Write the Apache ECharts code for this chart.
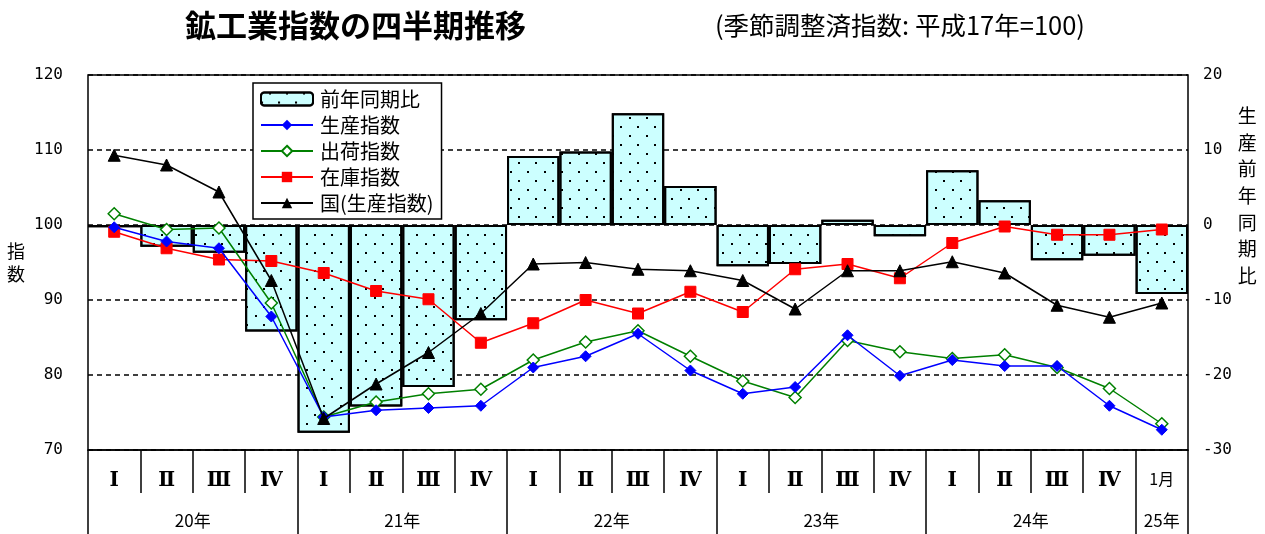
<!DOCTYPE html>
<html>
<head>
<meta charset="utf-8">
<script src="https://cdn.jsdelivr.net/npm/echarts@6/dist/echarts.min.js"></script>
<style>
html,body{margin:0;padding:0;background:#fff;}
#c{width:1265px;height:534px;}
</style>
</head>
<body>
<div id="c"></div>
<script>
// ---- data ----
var quarterLabels = ['Ⅰ','Ⅱ','Ⅲ','Ⅳ','Ⅰ','Ⅱ','Ⅲ','Ⅳ','Ⅰ','Ⅱ','Ⅲ','Ⅳ','Ⅰ','Ⅱ','Ⅲ','Ⅳ','Ⅰ','Ⅱ','Ⅲ','Ⅳ','1月'];
var yearNames = ['20年','21年','22年','23年','24年','25年'];
var yearSpans = [4, 4, 4, 4, 4, 1]; // number of periods per year
var yoyChange  = [-0.3, -2.9, -3.7, -14.2, -27.7, -24.2, -21.6, -12.7, 9.2, 9.8, 14.9, 5.2, -5.5, -5.2, 0.7, -1.5, 7.3, 3.3, -4.7, -4.1, -9.2];
var production = [99.7, 97.8, 96.9, 87.8, 74.4, 75.3, 75.6, 75.9, 81.0, 82.5, 85.5, 80.6, 77.5, 78.4, 85.3, 79.9, 82.0, 81.2, 81.2, 75.9, 72.7];
var shipment   = [101.5, 99.4, 99.6, 89.6, 74.4, 76.4, 77.5, 78.1, 82.0, 84.4, 85.9, 82.5, 79.2, 77.0, 84.6, 83.1, 82.2, 82.7, 81.0, 78.2, 73.5];
var inventory  = [99.1, 96.9, 95.4, 95.2, 93.6, 91.2, 90.1, 84.3, 86.9, 90.0, 88.2, 91.1, 88.4, 94.1, 94.8, 92.9, 97.6, 99.8, 98.7, 98.7, 99.4];
var national   = [109.3, 108.0, 104.4, 92.6, 74.2, 78.8, 83.0, 88.2, 94.8, 95.0, 94.1, 93.9, 92.6, 88.8, 93.9, 93.9, 95.1, 93.6, 89.3, 87.7, 89.6];
var leftTicks = {min: 70, max: 120, interval: 10};
var rightTicks = {min: -30, max: 20, interval: 10};

// ---- year axis built on half-period points ----
var halfCats = [], yearLabelAt = {}, yearTickAt = {0: true};
(function(){
  var pos = 0;
  for (var i = 0; i < yearNames.length; i++) {
    var start = pos * 2, end = (pos + yearSpans[i]) * 2;
    yearLabelAt[(start + end) / 2] = yearNames[i];
    yearTickAt[end] = true;
    pos += yearSpans[i];
  }
  for (var k = 0; k <= pos * 2; k++) halfCats.push(yearLabelAt[k] || '');
})();

var FONT = '"Noto Sans CJK JP", "Noto Sans", sans-serif';
var chart = echarts.init(document.getElementById('c'), null, {renderer: 'canvas'});
var dotDecal = {
  symbol: 'rect', symbolSize: 1, color: '#000', backgroundColor: null,
  dashArrayX: [[1.6, 14.4], [0, 8, 1.6, 6.4]], dashArrayY: [1.6, 6.4], rotation: 0
};
var option = {
  animation: false,
  backgroundColor: '#fff',
  textStyle: {fontFamily: FONT, color: '#000'},
  title: [
    {text: '鉱工業指数の四半期推移', left: 180, top: 5,
     textStyle: {fontFamily: FONT, fontSize: 31, fontWeight: 'bold', color: '#000'}},
    {text: '(季節調整済指数: 平成17年=100)', left: 710, top: 8,
     textStyle: {fontFamily: FONT, fontSize: 25.5, fontWeight: 'normal', color: '#000'}}
  ],
  legend: {
    orient: 'vertical', left: 253, top: 83,
    padding: [6, 8, 6, 7], itemGap: 6, itemWidth: 52, itemHeight: 13,
    backgroundColor: '#fff', borderColor: '#000', borderWidth: 1.5, borderRadius: 0,
    textStyle: {fontFamily: FONT, fontSize: 20, color: '#000', padding: [0, 0, 0, 2]},
    data: ['前年同期比', '生産指数', '出荷指数', '在庫指数', '国(生産指数)']
  },
  grid: {left: 88, right: 77, top: 75, bottom: 84, show: true, borderColor: '#000', borderWidth: 1.5, backgroundColor: 'transparent', z: 10},
  xAxis: [
    {type: 'category', data: quarterLabels, position: 'bottom', boundaryGap: true,
     axisLine: {show: true, onZero: false, lineStyle: {color: '#000', width: 1.5}},
     axisTick: {show: true, interval: 0, length: 43, inside: false, lineStyle: {color: '#000', width: 1.5}},
     axisLabel: {interval: 0, margin: 21, color: '#000',
       formatter: function(v){ return /^[ⅠⅡⅢⅣ]$/.test(v) ? '{r|' + v + '}' : '{n|' + v + '}'; },
       rich: {
         r: {fontSize: 20, fontWeight: 'bold', fontFamily: '"DejaVu Serif", "Noto Sans CJK JP", serif', color: '#000'},
         n: {fontSize: 16, fontFamily: FONT, color: '#000'}
       }},
     splitLine: {show: false}},
    {type: 'category', data: halfCats, position: 'bottom', boundaryGap: false, offset: 0,
     axisLine: {show: false, onZero: false},
     axisTick: {show: true, length: 84, lineStyle: {color: '#000', width: 1.5},
       interval: function(idx){ return !!yearTickAt[idx]; }},
     axisLabel: {margin: 62, fontSize: 17, color: '#000', fontFamily: FONT,
       interval: function(idx, val){ return val !== ''; }},
     splitLine: {show: false}}
  ],
  yAxis: [
    {type: 'value', min: leftTicks.min, max: leftTicks.max, interval: leftTicks.interval, position: 'left',
     name: '指\n数', nameLocation: 'middle', nameRotate: 0, nameGap: 63,
     nameTextStyle: {fontFamily: FONT, fontSize: 18, lineHeight: 23, color: '#000'},
     axisLine: {show: false}, axisTick: {show: false},
     axisLabel: {margin: 25, fontSize: 16, color: '#000', fontFamily: '"DejaVu Sans Mono", monospace'},
     splitLine: {show: true, lineStyle: {color: '#000', type: [5, 4], width: 1.5}}},
    {type: 'value', min: rightTicks.min, max: rightTicks.max, interval: rightTicks.interval, position: 'right',
     name: '生\n産\n前\n年\n同\n期\n比\n\n\n\n\n', nameLocation: 'middle', nameRotate: 0, nameGap: 46,
     nameTextStyle: {fontFamily: FONT, fontSize: 19, lineHeight: 26.7, color: '#000'},
     axisLine: {show: false}, axisTick: {show: false},
     axisLabel: {margin: 15, fontSize: 16, color: '#000', fontFamily: '"DejaVu Sans Mono", monospace'},
     splitLine: {show: false}}
  ],
  series: [
    {name: '前年同期比', type: 'bar', xAxisIndex: 0, yAxisIndex: 1, data: yoyChange,
     barCategoryGap: '0%', barGap: '0%', z: 2,
     itemStyle: {color: '#ccffff', borderColor: '#000', borderWidth: 2, decal: dotDecal}},
    {name: '生産指数', type: 'line', xAxisIndex: 0, yAxisIndex: 0, data: production, z: 6,
     symbol: 'diamond', symbolSize: 11, lineStyle: {color: '#0000ff', width: 1.5},
     itemStyle: {color: '#0000ff', borderColor: '#0000ff'}},
    {name: '出荷指数', type: 'line', xAxisIndex: 0, yAxisIndex: 0, data: shipment, z: 5,
     symbol: 'diamond', symbolSize: 12, lineStyle: {color: '#008000', width: 1.5},
     itemStyle: {color: '#fff', borderColor: '#008000', borderWidth: 1.5}},
    {name: '在庫指数', type: 'line', xAxisIndex: 0, yAxisIndex: 0, data: inventory, z: 4,
     symbol: 'rect', symbolSize: 11, lineStyle: {color: '#ff0000', width: 1.5},
     itemStyle: {color: '#ff0000', borderColor: '#ff0000'}},
    {name: '国(生産指数)', type: 'line', xAxisIndex: 0, yAxisIndex: 0, data: national, z: 7,
     symbol: 'triangle', symbolSize: 12, lineStyle: {color: '#000', width: 1.5},
     itemStyle: {color: '#000', borderColor: '#000'}}
  ]
};
chart.setOption(option);
</script>
</body>
</html>
